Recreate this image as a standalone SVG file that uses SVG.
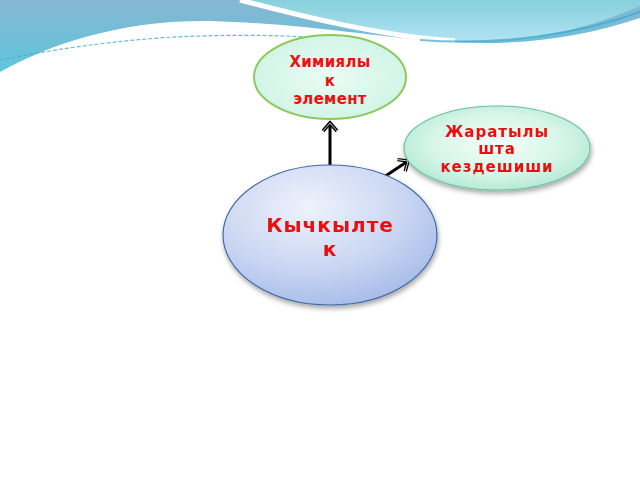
<svg xmlns="http://www.w3.org/2000/svg" width="640" height="480" viewBox="0 0 640 480">
<defs>
<linearGradient id="gBlue" x1="0" y1="0" x2="0" y2="1">
<stop offset="0" stop-color="#86b6d2"/>
<stop offset="1" stop-color="#5ec6dc"/>
</linearGradient>
<linearGradient id="gTeal" x1="0" y1="0" x2="0" y2="1">
<stop offset="0" stop-color="#86d0dc"/>
<stop offset="1" stop-color="#b2e2f2"/>
</linearGradient>
<radialGradient id="gTop" cx="0.5" cy="0.5" r="0.6">
<stop offset="0" stop-color="#eafcf4"/>
<stop offset="1" stop-color="#cdf3e4"/>
</radialGradient>
<radialGradient id="gRight" cx="0.5" cy="0.45" r="0.6">
<stop offset="0" stop-color="#f4fdf9"/>
<stop offset="0.6" stop-color="#d6f5e9"/>
<stop offset="1" stop-color="#aee6d2"/>
</radialGradient>
<radialGradient id="gBig" cx="0.4" cy="0.3" r="0.8">
<stop offset="0" stop-color="#eef2fb"/>
<stop offset="0.55" stop-color="#cad6f2"/>
<stop offset="1" stop-color="#9fb6e8"/>
</radialGradient>
<filter id="sh" x="-20%" y="-20%" width="140%" height="150%">
<feDropShadow dx="1" dy="3" stdDeviation="2.5" flood-color="#000" flood-opacity="0.35"/>
</filter>
<marker id="arr" markerUnits="userSpaceOnUse" markerWidth="24" markerHeight="24" refX="0" refY="0" viewBox="-12 -12 24 24" orient="auto" overflow="visible">
<path d="M-8,-7 L0,0 L-8,7" fill="none" stroke="#000" stroke-width="3.5" stroke-linejoin="miter"/>
<path d="M-8,-7 L0,0 L-8,7" fill="none" stroke="#fff" stroke-width="0.8"/>
</marker>
<style>
.t{font-family:"DejaVu Sans",Verdana,sans-serif;font-weight:bold;fill:#ee1010;text-anchor:middle}
.s{font-size:15px;letter-spacing:1px}
.s0{font-size:15px;letter-spacing:0.3px}
.b{font-size:20px;letter-spacing:1px}
.c{fill:none;stroke:#000;stroke-width:3}
</style>
</defs>
<rect width="640" height="480" fill="#ffffff"/>
<g id="background">
<path d="M0,0 H640 V18 C580,38 520,46 450,42 C380,38 310,24 210,21 C120,20 50,44 0,72 Z" fill="url(#gBlue)"/>
<path d="M240,0 C300,16 380,36 455,41 C530,44 590,28 640,6 V0 Z" fill="url(#gTeal)"/>
<path d="M240,0 C300,16 380,36 455,41" fill="none" stroke="#ffffff" stroke-width="5"/>
<path d="M420,40 C500,46 580,34 640,12" fill="none" stroke="#3aa8cc" stroke-width="2" opacity="0.7"/>
<path d="M0,60 C40,52 120,38 200,36 C270,34 300,37 330,38" fill="none" stroke="#4aa6cc" stroke-width="1.2" stroke-dasharray="4 2" opacity="0.8"/>
</g>
<g id="connectors">
<line class="c" x1="330" y1="166" x2="330" y2="123" marker-end="url(#arr)"/>
<line class="c" x1="384" y1="177" x2="408" y2="161" marker-end="url(#arr)"/>
</g>
<g id="node-chem">
<ellipse cx="330" cy="77" rx="76" ry="42" fill="url(#gTop)" stroke="#8cc85c" stroke-width="2"/>
<text class="t s0" x="330" y="67">Химиялы</text>
<text class="t s0" x="330" y="86">к</text>
<text class="t s0" x="330" y="104">элемент</text>
</g>
<g id="node-nature" filter="url(#sh)">
<ellipse cx="497" cy="148" rx="93" ry="42" fill="url(#gRight)" stroke="#6cc0a2" stroke-width="1.2"/>
<text class="t s" x="497" y="137">Жаратылы</text>
<text class="t s" x="497" y="154">шта</text>
<text class="t s" x="497" y="172">кездешиши</text>
</g>
<g id="node-oxygen" filter="url(#sh)">
<ellipse cx="330" cy="235" rx="107" ry="70" fill="url(#gBig)" stroke="#3f6aa8" stroke-width="1.2"/>
<text class="t b" x="330" y="232">Кычкылте</text>
<text class="t b" x="330" y="256">к</text>
</g>
</svg>
